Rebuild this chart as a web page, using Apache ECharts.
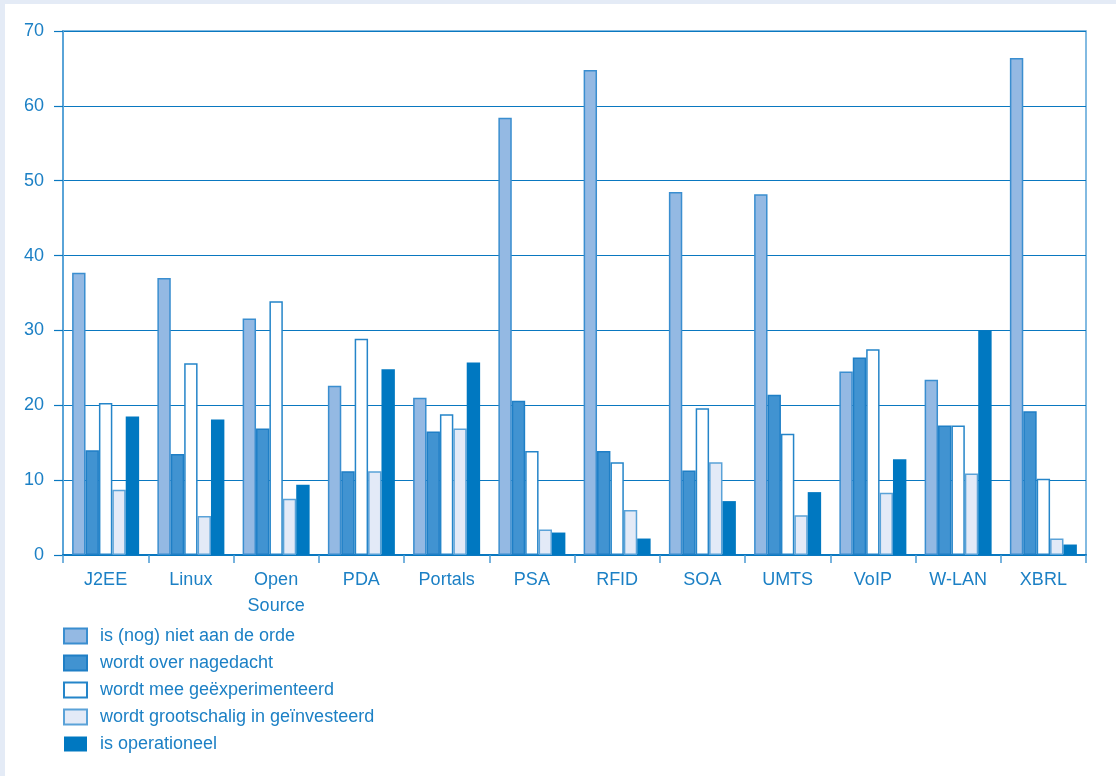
<!DOCTYPE html>
<html>
<head>
<meta charset="utf-8">
<script src="https://cdn.jsdelivr.net/npm/echarts@6/dist/echarts.min.js"></script>
<style>
  html, body { margin: 0; padding: 0; width: 1116px; height: 776px; background: #e4ebf6; overflow: hidden; }
  #chart { position: absolute; left: 5px; top: 4px; width: 1111px; height: 772px; background: #ffffff; }
</style>
</head>
<body>
<div id="chart"></div>
<script>
// Technologies surveyed
const categories = ['J2EE', 'Linux', 'Open\nSource', 'PDA', 'Portals', 'PSA', 'RFID', 'SOA', 'UMTS', 'VoIP', 'W-LAN', 'XBRL'];

// Share of respondents (%) per adoption stage
const nietAanDeOrde    = [37.7, 37.0, 31.6, 22.6, 21.0, 58.4, 64.8, 48.5, 48.2, 24.5, 23.4, 66.4];
const overNagedacht    = [14.0, 13.5, 16.9, 11.2, 16.5, 20.6, 13.9, 11.3, 21.4, 26.4, 17.3, 19.2];
const geexperimenteerd = [20.3, 25.6, 33.9, 28.9, 18.8, 13.9, 12.4, 19.6, 16.2, 27.5, 17.3, 10.2];
const geinvesteerd     = [8.7, 5.2, 7.5, 11.2, 16.9, 3.4, 6.0, 12.4, 5.3, 8.3, 10.9, 2.2];
const operationeel     = [18.5, 18.1, 9.4, 24.8, 25.7, 3.0, 2.2, 7.2, 8.4, 12.8, 30.0, 1.4];

// Y axis ticks
const yTicks = [0, 10, 20, 30, 40, 50, 60, 70];

const TEXT = '#1c80c5';
const LINE = '#0a78c0';
const FONT = '"Liberation Sans", Arial, sans-serif';
const FS = 18;

const chart = echarts.init(document.getElementById('chart'));

function bar(name, data, fill, border, bw) {
  return {
    name: name,
    type: 'bar',
    data: data,
    barWidth: 13.4,
    barGap: '0%',
    itemStyle: { color: fill, borderColor: border, borderWidth: bw },
    emphasis: { disabled: true }
  };
}

chart.setOption({
  animation: false,
  textStyle: { fontFamily: FONT },
  grid: {
    left: 58, right: 30, top: 27, bottom: 221,
    show: true, borderColor: '#5aa4d8', borderWidth: 1.5, backgroundColor: 'transparent'
  },
  legend: {
    orient: 'vertical',
    left: 53, top: 618,
    itemWidth: 23, itemHeight: 15, itemGap: 9,
    icon: 'rect',
    selectedMode: false,
    textStyle: { color: TEXT, fontSize: FS, fontFamily: FONT, padding: [0, 0, 0, 8] }
  },
  xAxis: {
    type: 'category',
    data: categories,
    axisLine: { lineStyle: { color: LINE, width: 2 } },
    axisTick: { show: true, length: 8, lineStyle: { color: '#4a9ad4', width: 1.5 } },
    axisLabel: { color: TEXT, fontSize: FS, margin: 12, lineHeight: 26, fontFamily: FONT, interval: 0 }
  },
  yAxis: {
    type: 'value',
    min: yTicks[0], max: yTicks[yTicks.length - 1], interval: 10,
    axisLine: { show: true, lineStyle: { color: '#5aa4d8', width: 2 } },
    axisTick: { show: true, length: 9, lineStyle: { color: LINE, width: 1.2 } },
    axisLabel: { color: TEXT, fontSize: FS, margin: 19, fontFamily: FONT },
    splitLine: { lineStyle: { color: LINE, width: 1.2 } }
  },
  series: [
    bar('is (nog) niet aan de orde', nietAanDeOrde, '#94b9e3', '#3a8ed0', 1.5),
    bar('wordt over nagedacht', overNagedacht, '#4193d1', '#1f7fc6', 1.5),
    bar('wordt mee geëxperimenteerd', geexperimenteerd, '#ffffff', '#2585c9', 1.5),
    bar('wordt grootschalig in geïnvesteerd', geinvesteerd, '#e3eaf7', '#5aa2d8', 1.5),
    bar('is operationeel', operationeel, '#0078c1', '#0078c1', 0)
  ]
});
</script>
</body>
</html>
